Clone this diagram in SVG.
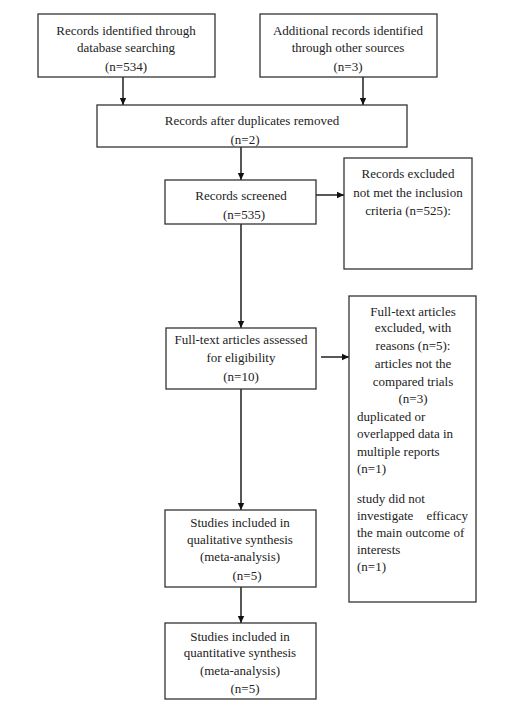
<svg xmlns="http://www.w3.org/2000/svg" width="515" height="720" viewBox="0 0 515 720">
<style>
.b{fill:#fff;stroke:#333;stroke-width:1.3}
text{font-family:"Liberation Serif","Times New Roman",serif;font-size:13px;fill:#222}
.c{text-anchor:middle}
.l{stroke:#111;stroke-width:1.4;fill:none}
</style>
<defs>
<marker id="a" markerWidth="8" markerHeight="8" refX="7" refY="4" orient="auto" markerUnits="userSpaceOnUse">
<path d="M0,0.8 L7,4 L0,7.2 Z" fill="#111"/>
</marker>
</defs>
<rect width="515" height="720" fill="#fff"/>
<g id="connectors">
<line class="l" x1="123" y1="77" x2="123" y2="105" marker-end="url(#a)"/>
<line class="l" x1="363" y1="77" x2="363" y2="105" marker-end="url(#a)"/>
<line class="l" x1="241" y1="147" x2="241" y2="180" marker-end="url(#a)"/>
<line class="l" x1="316" y1="195" x2="344" y2="195" marker-end="url(#a)"/>
<line class="l" x1="241" y1="224" x2="241" y2="328" marker-end="url(#a)"/>
<line class="l" x1="321" y1="357" x2="349" y2="357" marker-end="url(#a)"/>
<line class="l" x1="241" y1="389" x2="241" y2="510" marker-end="url(#a)"/>
<line class="l" x1="241" y1="587" x2="241" y2="623" marker-end="url(#a)"/>
</g>
<g id="n1">
<rect class="b" x="38" y="14" width="177" height="63"/>
<text class="c" x="126" y="35">Records identified through</text>
<text class="c" x="126" y="52">database searching</text>
<text class="c" x="126" y="71">(n=534)</text>
</g>
<g id="n2">
<rect class="b" x="260" y="14" width="177" height="63"/>
<text class="c" x="348" y="35">Additional records identified</text>
<text class="c" x="348" y="52">through other sources</text>
<text class="c" x="348" y="71">(n=3)</text>
</g>
<g id="n3">
<rect class="b" x="97" y="105" width="310" height="42"/>
<text class="c" x="252" y="125">Records after duplicates removed</text>
<text class="c" x="245" y="144">(n=2)</text>
</g>
<g id="n4">
<rect class="b" x="165" y="180" width="151" height="44"/>
<text class="c" x="241" y="200">Records screened</text>
<text class="c" x="244" y="219">(n=535)</text>
</g>
<g id="n5">
<rect class="b" x="344" y="158" width="128" height="111"/>
<text class="c" x="408" y="178">Records excluded</text>
<text class="c" x="408" y="197">not met the inclusion</text>
<text class="c" x="408" y="215">criteria (n=525):</text>
</g>
<g id="n6">
<rect class="b" x="166" y="328" width="150" height="61"/>
<text class="c" x="241" y="344">Full-text articles assessed</text>
<text class="c" x="241" y="362">for eligibility</text>
<text class="c" x="241" y="381">(n=10)</text>
</g>
<g id="n7">
<rect class="b" x="349" y="296" width="127" height="306"/>
<text class="c" x="413" y="316">Full-text articles</text>
<text class="c" x="413" y="332">excluded, with</text>
<text class="c" x="413" y="350">reasons (n=5):</text>
<text class="c" x="413" y="368">articles not the</text>
<text class="c" x="413" y="386">compared trials</text>
<text class="c" x="413" y="403">(n=3)</text>
<text x="357" y="421">duplicated or</text>
<text x="357" y="438">overlapped data in</text>
<text x="357" y="456">multiple reports</text>
<text x="357" y="473">(n=1)</text>
<text x="357" y="503">study did not</text>
<text x="357" y="520">investigate</text>
<text x="468" y="520" text-anchor="end">efficacy</text>
<text x="357" y="537">the main outcome of</text>
<text x="357" y="554">interests</text>
<text x="357" y="571">(n=1)</text>
</g>
<g id="n8">
<rect class="b" x="165" y="510" width="151" height="77"/>
<text class="c" x="240" y="527">Studies included in</text>
<text class="c" x="240" y="544">qualitative synthesis</text>
<text class="c" x="240" y="561">(meta-analysis)</text>
<text class="c" x="247" y="580">(n=5)</text>
</g>
<g id="n9">
<rect class="b" x="165" y="623" width="151" height="76"/>
<text class="c" x="240" y="641">Studies included in</text>
<text class="c" x="240" y="657">quantitative synthesis</text>
<text class="c" x="240" y="675">(meta-analysis)</text>
<text class="c" x="245" y="693">(n=5)</text>
</g>
</svg>
